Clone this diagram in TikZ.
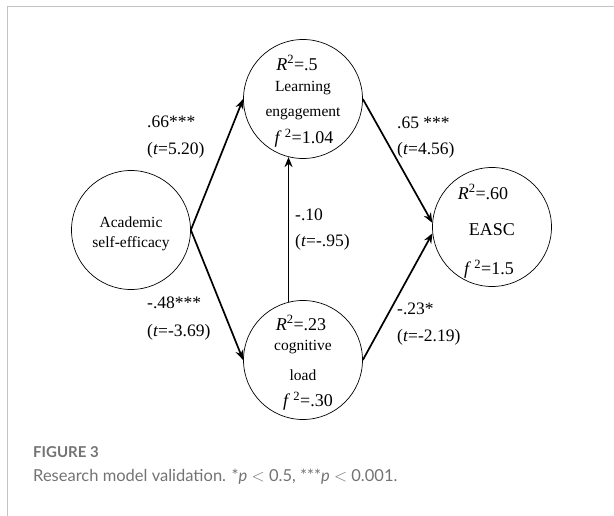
\documentclass[tikz,border=0pt]{standalone}
\usepackage{fontspec}
\setmainfont{Liberation Serif}
\newfontfamily\capfont{Lato}
\usetikzlibrary{arrows.meta}
\definecolor{framegray}{RGB}{195,195,195}
\definecolor{capgray}{RGB}{115,115,115}
\tikzset{
  var/.style={circle,draw,line width=0.7pt,minimum size=119pt,inner sep=0pt},
  intxt/.style={font=\fontsize{15.5}{17}\selectfont,inner sep=0pt},
  numtxt/.style={font=\fontsize{18}{20}\selectfont,inner sep=0pt},
  lbl/.style={font=\fontsize{17.5}{20}\selectfont,inner sep=0pt,anchor=west},
  path/.style={line width=1.7pt,-{Stealth[length=10pt,width=8pt]}}
}
\begin{document}
\begin{tikzpicture}[x=1pt,y=-1pt]
\useasboundingbox (0,0) rectangle (614,516);
% frame
\draw[framegray,line width=1pt] (614,7) -- (7,7) -- (7,516);
% circles
\node[var] (A) at (131,230) {};
\node[var] (LE) at (303,99) {};
\node[var] (CL) at (303,360) {};
\node[var] (E) at (492,227) {};
% texts inside
\node[intxt] (a1) at (131,222) {Academic};
\node[intxt] (a2) at (131,244) {self-efficacy};
\node[numtxt] (le1) at (297,63) {\textit{R}\textsuperscript{2}=.5};
\node[intxt] (le2) at (303,88) {Learning};
\node[intxt] (le3) at (303,114) {engagement};
\node[numtxt] (le4) at (304,138) {\textit{f}\,\textsuperscript{2}=1.04};
\node[numtxt] (cl1) at (301,323) {\textit{R}\textsuperscript{2}=.23};
\node[intxt] (cl2) at (303,347) {cognitive};
\node[intxt] (cl3) at (303,375) {load};
\node[numtxt] (cl4) at (308,401) {\textit{f}\,\textsuperscript{2}=.30};
\node[numtxt] (e1) at (483,192) {\textit{R}\textsuperscript{2}=.60};
\node[numtxt] (e2) at (492,230) {EASC};
\node[numtxt] (e3) at (489,269) {\textit{f}\,\textsuperscript{2}=1.5};
% arrows
\draw[path] (A.east) -- (LE.west);
\draw[path] (A.east) -- (CL.west);
\draw[path] (CL.104) -- (LE.256);
\draw[path] (LE.east) -- (E.176);
\draw[path] (CL.east) -- (E.186);
% labels
\node[lbl] (p1) at (147,122) {.66***};
\node[lbl] (p1t) at (147,150) {(\textit{t}=5.20)};
\node[lbl] (p2) at (147,303) {-.48***};
\node[lbl] (p2t) at (147,332) {(\textit{t}=-3.69)};
\node[lbl] (p3) at (295,215) {-.10};
\node[lbl] (p3t) at (295,242) {(\textit{t}=-.95)};
\node[lbl] (p4) at (397,123) {.65 ***};
\node[lbl] (p4t) at (397,150) {(\textit{t}=4.56)};
\node[lbl] (p5) at (397,309) {-.23*};
\node[lbl] (p5t) at (397,337) {(\textit{t}=-2.19)};
% caption
\node[anchor=west,inner sep=0pt,text=capgray,font=\capfont\bfseries\fontsize{15}{17}\selectfont] (fig) at (33,452) {FIGURE 3};
\node[anchor=west,inner sep=0pt,text=capgray,font=\capfont\fontsize{16.5}{19}\selectfont] (cap) at (33,477) {Research model validation. *\textit{p} $<$ 0.5, ***\textit{p} $<$ 0.001.};
\end{tikzpicture}
\end{document}
